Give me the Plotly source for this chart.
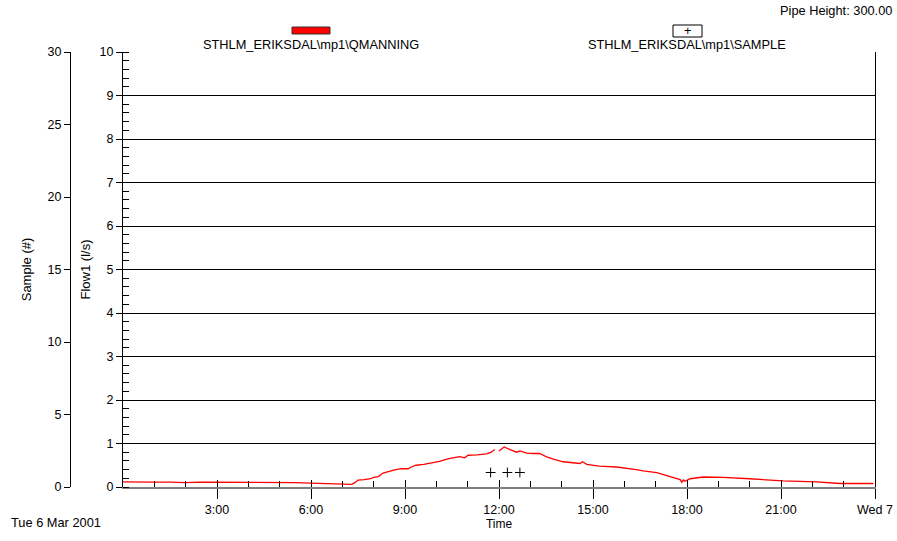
import pandas as pd
import plotly.graph_objects as go

# Flow measurements at STHLM_ERIKSDAL mp1, Tue 6 Mar 2001 (clock time, l/s)
flow_times = ["00:00", "00:30", "01:00", "01:30", "02:00", "02:30", "03:00", "03:30",
              "04:00", "04:30", "05:00", "05:30", "06:00", "06:30", "07:00", "07:18",
              "07:24", "07:30", "07:42", "07:54", "08:00", "08:09", "08:18", "08:30",
              "08:42", "08:54", "09:06", "09:12", "09:21", "09:36", "09:54", "10:06",
              "10:24", "10:36", "10:45", "10:54", "11:01", "11:18", "11:36", "11:45",
              "11:52", "11:57", "12:00", "12:10", "12:21", "12:30", "12:34", "12:40",
              "12:53", "13:06", "13:18", "13:30", "13:44", "14:03", "14:18", "14:35",
              "14:40", "14:48", "15:12", "15:45", "16:23", "16:36", "17:02", "17:28",
              "17:42", "17:47", "17:50", "17:53", "17:56", "18:06", "18:31", "19:10",
              "20:00", "21:04", "22:08", "22:53", "23:57"]
flow_values = [0.12, 0.11, 0.11, 0.11, 0.10, 0.11, 0.11, 0.11,
               0.11, 0.11, 0.10, 0.10, 0.09, 0.08, 0.07, 0.06,
               0.10, 0.16, 0.17, 0.19, 0.22, 0.24, 0.32, 0.36,
               0.40, 0.42, 0.42, 0.46, 0.50, 0.52, 0.56, 0.59,
               0.65, 0.67, 0.70, 0.67, 0.73, 0.74, 0.76, 0.80,
               0.86, None, 0.83, 0.92, 0.86, 0.82, 0.80, 0.83,
               0.78, 0.77, 0.77, 0.70, 0.64, 0.58, 0.56, 0.54,
               0.58, 0.52, 0.48, 0.46, 0.40, 0.37, 0.33, 0.23,
               0.18, 0.17, 0.11, 0.16, 0.13, 0.19, 0.23, 0.22,
               0.19, 0.14, 0.12, 0.08, 0.08]

# Sample counts
sample_times = ["11:44", "12:16", "12:40"]
sample_values = [1, 1, 1]

# Axis ticks
x_tick_times = ["03:00", "06:00", "09:00", "12:00", "15:00", "18:00", "21:00", "24:00"]
x_tick_text = ["3:00", "6:00", "9:00", "12:00", "15:00", "18:00", "21:00", "Wed 7"]
day = "2001-03-06"


def stamp(t):
    h, m = t.split(":")
    return pd.Timestamp(day) + pd.Timedelta(hours=int(h), minutes=int(m))


flow_x = [stamp(t) for t in flow_times]
sample_x = [stamp(t) for t in sample_times]
tick_x = [stamp(t) for t in x_tick_times]
x_range = [stamp("00:00"), stamp("24:00")]
hour_ticks = [stamp(f"{h:02d}:00") for h in range(1, 24)]

FONT = "Liberation Sans, Arial, sans-serif"
FS_TICK = 12.5
FS_TEXT = 12.8
FS_YTITLE = 13
W, H = 897, 541
# plot area in pixels: left, right, top, bottom
PL, PR, PT, PB = 123, 875, 52, 487
xdom = [PL / W, PR / W]
ydom = [1 - PB / H, 1 - PT / H]


def px(x):
    return x / W


def py(y):
    return 1 - y / H


fig = go.Figure()
fig.add_trace(go.Scatter(x=flow_x, y=flow_values, mode="lines",
                         line=dict(color="#ff0000", width=1.3),
                         connectgaps=False, showlegend=False, yaxis="y"))
fig.add_trace(go.Scatter(x=sample_x, y=sample_values, mode="markers",
                         marker=dict(symbol="cross-thin", size=7,
                                     line=dict(color="black", width=1)),
                         showlegend=False, yaxis="y2"))
# invisible helper trace so the upper time axis (major ticks inside) is drawn
fig.add_trace(go.Scatter(x=x_range, y=[None, None], xaxis="x2", yaxis="y",
                         showlegend=False, hoverinfo="skip"))

fig.update_layout(
    width=W, height=H,
    margin=dict(l=0, r=0, t=0, b=0),
    paper_bgcolor="white", plot_bgcolor="white",
    font=dict(family=FONT, size=FS_TICK, color="black"),
    xaxis=dict(
        domain=xdom, range=x_range, type="date", automargin=False,
        tickmode="array", tickvals=tick_x, ticktext=x_tick_text,
        ticks="outside", ticklen=10, tickcolor="black", tickwidth=1,
        tickfont=dict(size=FS_TICK),
        showgrid=False, zeroline=False,
        showline=True, linecolor="#808080", linewidth=2,
        minor=dict(tickmode="array", tickvals=hour_ticks, ticks="inside",
                   ticklen=6, tickcolor="black", showgrid=False),
        title=dict(text="Time", standoff=1, font=dict(size=12)),
    ),
    xaxis2=dict(
        domain=xdom, range=x_range, type="date", overlaying="x",
        anchor="y", side="bottom", matches="x", automargin=False,
        tickmode="array", tickvals=tick_x, ticks="inside", ticklen=7,
        tickcolor="black", showticklabels=False, showgrid=False,
        zeroline=False, showline=False,
    ),
    yaxis=dict(
        domain=ydom, range=[0, 10], dtick=1, tick0=0, automargin=False,
        ticks="outside", ticklen=6, tickcolor="black",
        tickfont=dict(size=FS_TICK),
        showgrid=True, gridcolor="black", gridwidth=1,
        showline=True, linecolor="black", linewidth=1, mirror=True,
        zeroline=False,
        minor=dict(dtick=0.2, ticks="inside", ticklen=6, tickcolor="black",
                   showgrid=False),
        title=dict(text="Flow1 (l/s)", standoff=6, font=dict(size=FS_YTITLE)),
    ),
    yaxis2=dict(
        range=[0, 30], dtick=5, tick0=0, overlaying="y", anchor="free",
        side="left", position=70 / W, automargin=False,
        ticks="outside", ticklen=6, tickcolor="black",
        tickfont=dict(size=FS_TICK),
        showgrid=False, zeroline=False,
        showline=True, linecolor="black", linewidth=1,
        title=dict(text="Sample (#)", standoff=12, font=dict(size=FS_YTITLE)),
    ),
)

# Legend swatches and labels
fig.add_shape(type="rect", xref="paper", yref="paper",
              x0=px(292), x1=px(330), y0=py(34), y1=py(27),
              fillcolor="#ff0000", line=dict(color="#333333", width=1))
fig.add_shape(type="rect", xref="paper", yref="paper",
              x0=px(673), x1=px(702), y0=py(37), y1=py(25),
              fillcolor="white", line=dict(color="black", width=1))
annots = [
    dict(text="STHLM_ERIKSDAL\\mp1\\QMANNING", x=px(311), y=py(44), xanchor="center"),
    dict(text="STHLM_ERIKSDAL\\mp1\\SAMPLE", x=px(687), y=py(44), xanchor="center"),
    dict(text="+", x=px(687.5), y=py(31), xanchor="center"),
    dict(text="Pipe Height: 300.00", x=px(894), y=py(10), xanchor="right"),
    dict(text="Tue 6 Mar 2001", x=px(9), y=py(522), xanchor="left"),
]
for a in annots:
    fig.add_annotation(xref="paper", yref="paper", showarrow=False,
                       yanchor="middle", font=dict(size=FS_TEXT, family=FONT), **a)

fig.write_html("out.html")
